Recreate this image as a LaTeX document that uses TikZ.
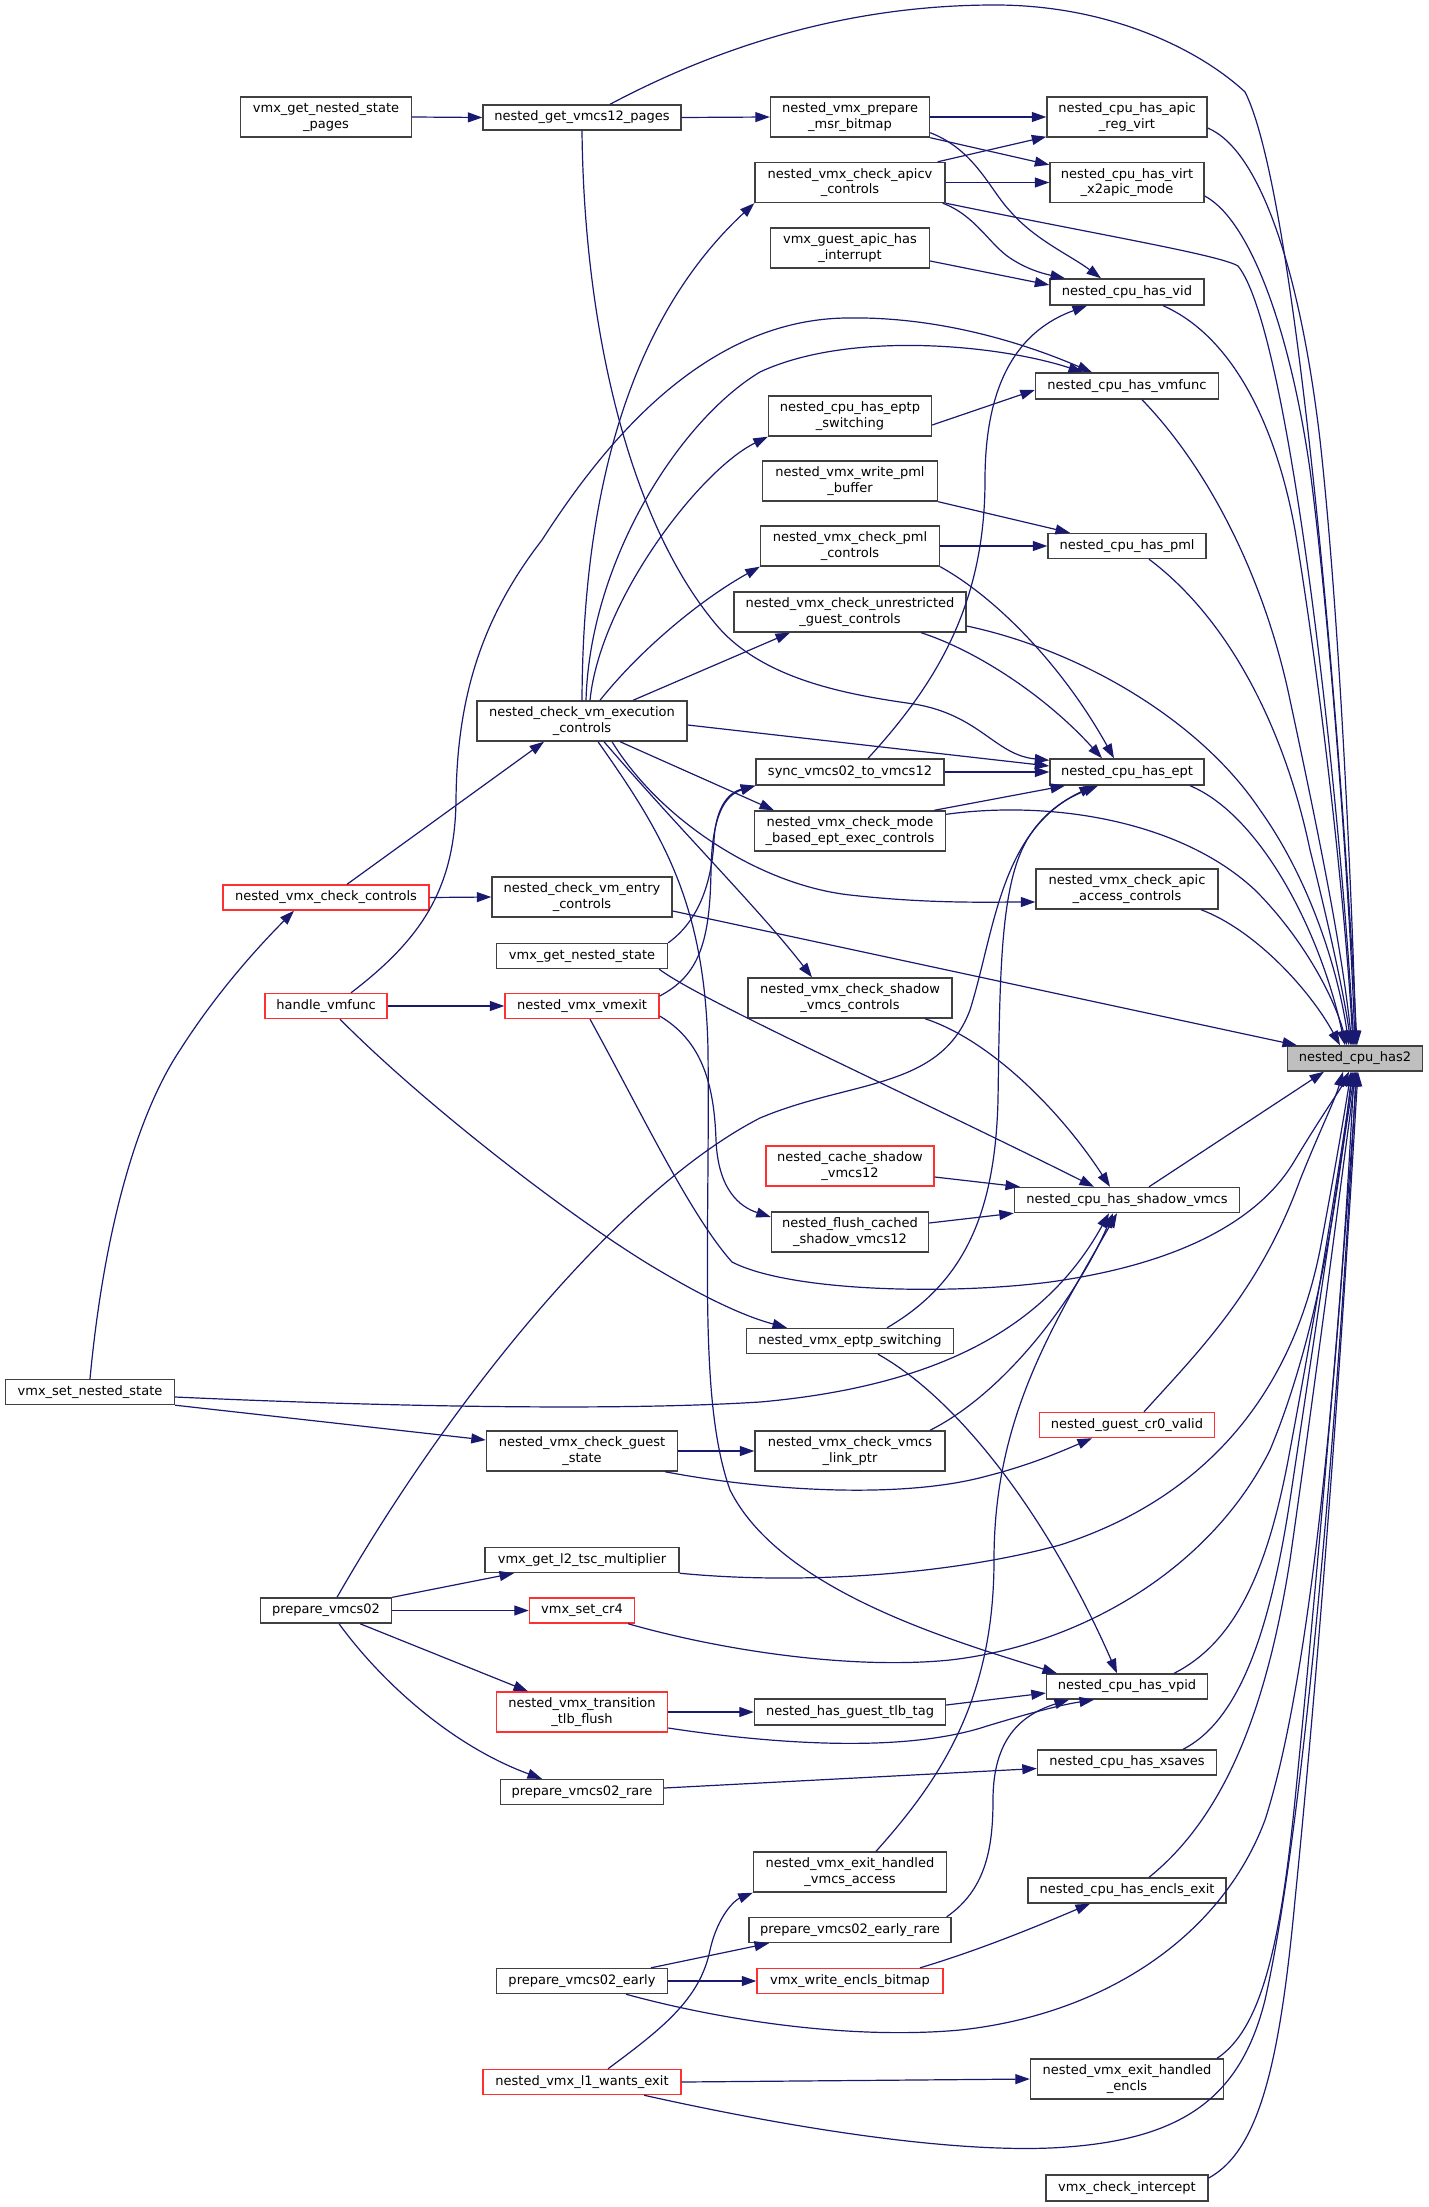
\documentclass[tikz,border=0pt]{standalone}
\usepackage{fontspec}
\setmainfont{DejaVu Sans}
\usetikzlibrary{arrows.meta}
\definecolor{edgec}{HTML}{191970}
\definecolor{boxc}{HTML}{404040}
\definecolor{redc}{HTML}{FF3030}
\definecolor{rootc}{HTML}{BFBFBF}
\tikzset{
 box/.style={draw=boxc,line width=1.4pt,fill=white,rectangle,inner sep=0pt,align=center,font=\fontsize{13pt}{15.4pt}\selectfont,minimum height=25pt},
 tall/.style={minimum height=40pt},
 trunc/.style={draw=redc},
 rootn/.style={fill=rootc},
 e/.style={draw=edgec,line width=1.2pt,-{Triangle[length=14.5pt,width=10pt]}},
}
\begin{document}
\begin{tikzpicture}[x=1pt,y=-1pt]
\useasboundingbox (0,0) rectangle (1428,2207);
\node[box,minimum width=171pt,tall] (gnsp) at (326,117) {vmx\_get\_nested\_state\\\_pages};
\node[box,minimum width=198pt] (gvp) at (582,117.5) {nested\_get\_vmcs12\_pages};
\node[box,minimum width=159pt,tall] (pmb) at (850,117) {nested\_vmx\_prepare\\\_msr\_bitmap};
\node[box,minimum width=160pt,tall] (arv) at (1127,117) {nested\_cpu\_has\_apic\\\_reg\_virt};
\node[box,minimum width=190pt,tall] (apicv) at (850,182.5) {nested\_vmx\_check\_apicv\\\_controls};
\node[box,minimum width=154pt,tall] (x2a) at (1127,182.5) {nested\_cpu\_has\_virt\\\_x2apic\_mode};
\node[box,minimum width=159pt,tall] (gai) at (850,248) {vmx\_guest\_apic\_has\\\_interrupt};
\node[box,minimum width=154pt,minimum height=26pt] (vid) at (1127,292) {nested\_cpu\_has\_vid};
\node[box,minimum width=183pt,minimum height=26pt] (vmf) at (1127,386) {nested\_cpu\_has\_vmfunc};
\node[box,minimum width=163pt,tall] (eps) at (850,416) {nested\_cpu\_has\_eptp\\\_switching};
\node[box,minimum width=175pt,tall] (wpb) at (850,481) {nested\_vmx\_write\_pml\\\_buffer};
\node[box,minimum width=179pt,tall] (cpc) at (850,546) {nested\_vmx\_check\_pml\\\_controls};
\node[box,minimum width=158pt] (pml) at (1127,546) {nested\_cpu\_has\_pml};
\node[box,minimum width=232pt,tall] (ugc) at (850,612) {nested\_vmx\_check\_unrestricted\\\_guest\_controls};
\node[box,minimum width=210pt,tall] (vec) at (582,721) {nested\_check\_vm\_execution\\\_controls};
\node[box,minimum width=188pt,minimum height=26pt] (sync) at (850,772) {sync\_vmcs02\_to\_vmcs12};
\node[box,minimum width=154pt,minimum height=26pt] (ept) at (1127,772) {nested\_cpu\_has\_ept};
\node[box,minimum width=191pt,tall] (mbe) at (850,831) {nested\_vmx\_check\_mode\\\_based\_ept\_exec\_controls};
\node[box,minimum width=182pt,tall] (aac) at (1127,889) {nested\_vmx\_check\_apic\\\_access\_controls};
\node[box,trunc,minimum width=206pt] (vcc) at (326,897.5) {nested\_vmx\_check\_controls};
\node[box,minimum width=180pt,tall] (vmentry) at (582,897) {nested\_check\_vm\_entry\\\_controls};
\node[box,minimum width=171pt] (gns) at (582,956) {vmx\_get\_nested\_state};
\node[box,minimum width=204pt,tall] (svc) at (850,998) {nested\_vmx\_check\_shadow\\\_vmcs\_controls};
\node[box,rootn,minimum width=135pt] (has2) at (1355,1058.5) {nested\_cpu\_has2};
\node[box,trunc,minimum width=122pt] (hvf) at (326,1006) {handle\_vmfunc};
\node[box,trunc,minimum width=154pt] (vmexit) at (582,1006) {nested\_vmx\_vmexit};
\node[box,trunc,minimum width=168pt,tall] (csv) at (850,1166) {nested\_cache\_shadow\\\_vmcs12};
\node[box,minimum width=225pt] (shv) at (1127,1200) {nested\_cpu\_has\_shadow\_vmcs};
\node[box,minimum width=157pt,tall] (fcs) at (850,1232) {nested\_flush\_cached\\\_shadow\_vmcs12};
\node[box,minimum width=207pt] (eptp) at (850,1341) {nested\_vmx\_eptp\_switching};
\node[box,minimum width=169pt] (sns) at (90,1392) {vmx\_set\_nested\_state};
\node[box,trunc,minimum width=175pt] (cr0) at (1127,1425) {nested\_guest\_cr0\_valid};
\node[box,minimum width=191pt,tall] (cgs) at (582,1451) {nested\_vmx\_check\_guest\\\_state};
\node[box,minimum width=190pt,tall] (vlp) at (850,1451) {nested\_vmx\_check\_vmcs\\\_link\_ptr};
\node[box,minimum width=194pt] (l2t) at (582,1560) {vmx\_get\_l2\_tsc\_multiplier};
\node[box,minimum width=131pt] (pv02) at (326,1610.5) {prepare\_vmcs02};
\node[box,trunc,minimum width=105pt] (cr4) at (582,1610.5) {vmx\_set\_cr4};
\node[box,minimum width=161pt] (vpid) at (1127,1686.5) {nested\_cpu\_has\_vpid};
\node[box,trunc,minimum width=171pt,tall] (ttf) at (582,1712) {nested\_vmx\_transition\\\_tlb\_flush};
\node[box,minimum width=191pt,minimum height=26pt] (tlb) at (850,1712) {nested\_has\_guest\_tlb\_tag};
\node[box,minimum width=179pt] (xsv) at (1127,1762.5) {nested\_cpu\_has\_xsaves};
\node[box,minimum width=163pt] (pvr) at (582,1792) {prepare\_vmcs02\_rare};
\node[box,minimum width=193pt,tall] (ehva) at (850,1872) {nested\_vmx\_exit\_handled\\\_vmcs\_access};
\node[box,minimum width=198pt] (encx) at (1127,1890.5) {nested\_cpu\_has\_encls\_exit};
\node[box,minimum width=202pt] (per) at (850,1930) {prepare\_vmcs02\_early\_rare};
\node[box,minimum width=171pt] (pe) at (582,1981) {prepare\_vmcs02\_early};
\node[box,trunc,minimum width=186pt] (web) at (850,1981) {vmx\_write\_encls\_bitmap};
\node[box,trunc,minimum width=198pt] (l1w) at (582,2082) {nested\_vmx\_l1\_wants\_exit};
\node[box,minimum width=193pt,tall] (ehe) at (1127,2079) {nested\_vmx\_exit\_handled\\\_encls};
\node[box,minimum width=162pt,minimum height=26pt] (vci) at (1127,2188) {vmx\_check\_intercept};
% edges
\draw[e] (gnsp.east) -- (gvp.west);
\draw[e] (gvp.east) -- (pmb.west);
\draw[e] ([xshift=28pt]gvp.north) .. controls (750,30) and (880,5) .. (995,5) .. controls (1110,5) and (1200,50) .. (1245,92) .. controls (1300,200) and (1345,800) .. ([xshift=2pt]has2.north);
\draw[e] (gvp.south) .. controls (584,330) and (630,520) .. (714,622) .. controls (760,680) and (850,695) .. (914,704) .. controls (980,715) and (995,755) .. ([yshift=-2pt]ept.north west);
\draw[e] (pmb.east) -- (arv.west);
\draw[e] (pmb.south east) -- ([yshift=-3pt]x2a.north west);
\draw[e] ([yshift=5pt]pmb.south east) .. controls (975,150) and (990,190) .. (1010,211) .. controls (1035,240) and (1070,255) .. ([xshift=-26pt]vid.north);
\draw[e] ([xshift=-8pt]apicv.north east) -- ([yshift=1pt]arv.south west);
\draw[e] (apicv.east) -- (x2a.west);
\draw[e] ([xshift=-3pt]apicv.south east) .. controls (975,215) and (990,245) .. (1010,258) .. controls (1025,268) and (1040,273) .. ([xshift=-62pt]vid.north);
\draw[e] (apicv.south east) .. controls (1100,235) and (1220,255) .. (1238,266) .. controls (1290,330) and (1340,800) .. ([xshift=-1pt]has2.north);
\draw[e] ([yshift=-13pt]gai.east) -- ([yshift=7pt]vid.west);
\draw[e] ([xshift=36pt]vid.south) .. controls (1230,335) and (1275,420) .. (1295,530) .. controls (1320,680) and (1345,900) .. ([xshift=-2pt]has2.north);
\draw[e] ([yshift=-11pt]arv.east) .. controls (1260,150) and (1300,270) .. (1320,440) .. controls (1340,620) and (1352,900) .. ([xshift=1pt]has2.north);
\draw[e] ([yshift=-13.5pt]x2a.east) .. controls (1250,220) and (1290,330) .. (1310,470) .. controls (1330,620) and (1350,900) .. (has2.north);
\draw[e] ([xshift=25pt]hvf.north) .. controls (420,940) and (455,890) .. (456,800) .. controls (457,700) and (480,620) .. (542,540) .. controls (600,450) and (700,320) .. (846,318) .. controls (950,316) and (1040,350) .. ([xshift=-35pt]vmf.north);
\draw[e] (vec.north) .. controls (583,450) and (650,300) .. (apicv.south west);
\draw[e] ([xshift=4pt]vec.north) .. controls (590,560) and (680,420) .. (760,372) .. controls (850,330) and (1000,345) .. ([xshift=-44pt]vmf.north);
\draw[e] ([xshift=8pt]vec.north) .. controls (600,600) and (700,470) .. (eps.south west);
\draw[e] ([xshift=18pt]vec.north) .. controls (640,650) and (700,600) .. (cpc.south west);
\draw[e] ([xshift=51pt]vec.north) -- ([xshift=-60pt]ugc.south);
\draw[e] ([yshift=-4pt]vec.east) -- ([yshift=6pt]ept.west);
\draw[e] ([xshift=38pt]vec.south) -- ([xshift=-76pt]mbe.north);
\draw[e] ([xshift=30pt]vec.south) .. controls (660,820) and (760,885) .. (850,895) .. controls (930,904) and (990,902) .. ([yshift=-13pt]aac.west);
\draw[e] ([xshift=22pt]vec.south) .. controls (680,830) and (760,910) .. ([xshift=-38pt]svc.north);
\draw[e] ([xshift=16pt]vec.south) .. controls (660,830) and (705,900) .. (708,1050) .. controls (710,1250) and (698,1400) .. (730,1490) .. controls (780,1590) and (950,1640) .. ([xshift=-70pt]vpid.north);
\draw[e] ([xshift=21pt]vcc.north) -- ([xshift=-38pt]vec.south);
\draw[e] (vcc.east) -- (vmentry.west);
\draw[e] (sns.north) .. controls (105,1220) and (140,1110) .. (180,1050) .. controls (215,995) and (255,950) .. ([xshift=-32pt]vcc.south);
\draw[e] ([yshift=-5pt]sns.east) .. controls (350,1405) and (600,1412) .. (760,1402) .. controls (950,1385) and (1050,1320) .. ([xshift=-18pt]shv.south);
\draw[e] (sns.south east) -- ([yshift=11pt]cgs.west);
\draw[e] (hvf.east) -- (vmexit.west);
\draw[e] ([xshift=14pt]hvf.south) .. controls (420,1100) and (560,1210) .. (650,1265) .. controls (700,1295) and (740,1315) .. ([xshift=-63pt]eptp.north);
\draw[e] (pv02.north east) -- ([xshift=-68pt]l2t.south);
\draw[e] (pv02.east) -- (cr4.west);
\draw[e] ([xshift=34pt]pv02.south) -- ([xshift=-54pt]ttf.north);
\draw[e] ([xshift=13pt]pv02.south) .. controls (380,1680) and (450,1745) .. ([xshift=-40pt]pvr.north);
\draw[e] ([xshift=11pt]pv02.north) .. controls (450,1400) and (620,1190) .. (760,1118) .. controls (850,1080) and (940,1090) .. (970,1010) .. controls (995,930) and (1000,830) .. ([xshift=-33pt]ept.south);
\draw[e] (gns.north east) .. controls (700,920) and (712,880) .. (714,840) .. controls (716,805) and (730,792) .. (sync.south west);
\draw[e] ([yshift=10pt]vmexit.east) .. controls (700,975) and (710,940) .. (711,870) .. controls (712,815) and (725,795) .. (sync.south west);
\draw[e] ([xshift=-9pt]gns.south east) .. controls (700,1000) and (900,1090) .. ([xshift=-33pt]shv.north);
\draw[e] ([yshift=-10pt]vmexit.east) .. controls (700,1040) and (714,1080) .. (716,1140) .. controls (718,1190) and (740,1207) .. ([yshift=15pt]fcs.west);
\draw[e] ([xshift=8pt]vmexit.south) .. controls (640,1110) and (690,1215) .. (732,1262) .. controls (790,1292) and (950,1295) .. (1050,1282) .. controls (1180,1264) and (1260,1220) .. (1295,1160) .. controls (1322,1115) and (1340,1090) .. ([xshift=-6pt]has2.south);
\draw[e] (cgs.east) -- (vlp.west);
\draw[e] ([xshift=83pt]cgs.south) .. controls (760,1490) and (900,1500) .. (987,1476) .. controls (1030,1465) and (1060,1452) .. ([xshift=-35pt]cr0.south);
\draw[e] (l2t.south east) .. controls (800,1585) and (950,1575) .. (1060,1545) .. controls (1200,1500) and (1290,1400) .. (1320,1250) .. controls (1335,1170) and (1345,1110) .. ([xshift=-4pt]has2.south);
\draw[e] ([xshift=46pt]cr4.south) .. controls (720,1650) and (850,1670) .. (950,1660) .. controls (1080,1645) and (1210,1570) .. (1270,1450) .. controls (1320,1330) and (1340,1180) .. ([xshift=-3pt]has2.south);
\draw[e] (ttf.east) -- (tlb.west);
\draw[e] ([yshift=-16pt]ttf.east) .. controls (760,1742) and (900,1755) .. (987,1726) .. controls (1030,1713) and (1060,1705) .. ([xshift=-33pt]vpid.south);
\draw[e] ([yshift=4pt]pvr.east) -- ([yshift=-6pt]xsv.west);
\draw[e] ([xshift=69pt]pe.north) -- ([xshift=-81pt]per.south);
\draw[e] (pe.east) -- (web.west);
\draw[e] ([xshift=44pt]pe.south) .. controls (720,2020) and (850,2040) .. (960,2030) .. controls (1100,2015) and (1220,1940) .. (1265,1820) .. controls (1320,1650) and (1345,1250) .. ([xshift=-1pt]has2.south);
\draw[e] ([xshift=26pt]l1w.north) .. controls (660,2030) and (700,2000) .. (710,1950) .. controls (718,1915) and (735,1900) .. (ehva.south west);
\draw[e] (l1w.east) -- (ehe.west);
\draw[e] ([xshift=62pt]l1w.south) .. controls (800,2130) and (950,2152) .. (1050,2148) .. controls (1180,2142) and (1240,2100) .. (1265,2000) .. controls (1310,1800) and (1345,1300) .. ([xshift=1pt]has2.south);
\draw[e] ([yshift=-9pt]eps.east) -- ([yshift=-4pt]vmf.west);
\draw[e] (wpb.south east) -- ([xshift=-57pt]pml.north);
\draw[e] (cpc.east) -- (pml.west);
\draw[e] (cpc.south east) .. controls (1000,600) and (1065,670) .. ([xshift=-13pt]ept.north);
\draw[e] ([xshift=71pt]ugc.south) .. controls (975,650) and (1045,695) .. ([xshift=-25pt]ept.north);
\draw[e] ([yshift=-14pt]ugc.east) .. controls (1080,650) and (1200,720) .. (1260,810) .. controls (1310,880) and (1338,970) .. ([xshift=-6pt]has2.north);
\draw[e] (sync.east) -- (ept.west);
\draw[e] ([xshift=18pt]sync.north) .. controls (940,680) and (985,600) .. (985,480) .. controls (985,380) and (1020,330) .. ([xshift=-40pt]vid.south);
\draw[e] ([xshift=-12pt]mbe.north east) -- ([xshift=-62pt]ept.south);
\draw[e] ([yshift=-4pt]mbe.north east) .. controls (1050,800) and (1180,820) .. (1255,890) .. controls (1305,940) and (1335,1000) .. ([xshift=-8pt]has2.north);
\draw[e] ([xshift=75pt]svc.south) .. controls (990,1040) and (1060,1110) .. ([xshift=-17pt]shv.north);
\draw[e] ([yshift=-11pt]csv.east) -- ([xshift=-107pt]shv.north);
\draw[e] ([yshift=9pt]fcs.east) -- (shv.south west);
\draw[e] ([xshift=37pt]eptp.north) .. controls (960,1285) and (995,1220) .. (998,1100) .. controls (1000,970) and (1000,880) .. (1030,835) .. controls (1050,805) and (1075,795) .. ([xshift=-29pt]ept.south);
\draw[e] ([xshift=28pt]eptp.south) .. controls (960,1400) and (1050,1520) .. ([xshift=-10pt]vpid.north);
\draw[e] ([xshift=80pt]vlp.north) .. controls (1010,1390) and (1080,1290) .. ([xshift=-14pt]shv.south);
\draw[e] ([yshift=7pt]tlb.east) -- ([yshift=-6.5pt]vpid.west);
\draw[e] ([xshift=26pt]ehva.north) .. controls (940,1780) and (994,1700) .. (994,1560) .. controls (994,1420) and (1050,1330) .. ([xshift=-10pt]shv.south);
\draw[e] ([xshift=-5pt]per.north east) .. controls (985,1890) and (993,1850) .. (993,1800) .. controls (993,1740) and (1020,1715) .. ([xshift=-58pt]vpid.south);
\draw[e] ([xshift=70pt]web.north) .. controls (980,1950) and (1040,1925) .. ([xshift=-37pt]encx.south);
\draw[e] ([xshift=15pt]vmf.south) .. controls (1210,470) and (1265,580) .. (1290,700) .. controls (1320,840) and (1342,950) .. ([xshift=-3pt]has2.north);
\draw[e] ([xshift=22pt]pml.south) .. controls (1230,620) and (1285,730) .. (1310,850) .. controls (1330,930) and (1345,1000) .. ([xshift=-4pt]has2.north);
\draw[e] ([xshift=63pt]ept.south) .. controls (1260,815) and (1320,930) .. ([xshift=-10pt]has2.north);
\draw[e] ([xshift=74pt]aac.south) .. controls (1255,930) and (1310,990) .. ([xshift=-15pt]has2.north);
\draw[e] ([yshift=-14pt]vmentry.east) -- ([xshift=-58pt]has2.north);
\draw[e] ([xshift=22pt]shv.north) -- ([xshift=-31pt]has2.south);
\draw[e] ([xshift=17pt]cr0.north) .. controls (1200,1350) and (1260,1290) .. (1300,1180) .. controls (1320,1130) and (1335,1100) .. ([xshift=-12pt]has2.south);
\draw[e] ([xshift=47pt]vpid.north) .. controls (1240,1640) and (1270,1560) .. (1290,1450) .. controls (1320,1290) and (1342,1150) .. ([xshift=-2pt]has2.south);
\draw[e] ([xshift=56pt]xsv.north) .. controls (1240,1720) and (1270,1630) .. (1290,1500) .. controls (1320,1300) and (1342,1150) .. (has2.south);
\draw[e] ([xshift=22pt]encx.north) .. controls (1220,1820) and (1265,1720) .. (1290,1560) .. controls (1320,1350) and (1345,1150) .. ([xshift=1pt]has2.south);
\draw[e] ([xshift=90pt]ehe.north) .. controls (1260,2030) and (1280,1950) .. (1295,1800) .. controls (1325,1500) and (1348,1200) .. ([xshift=2pt]has2.south);
\draw[e] ([yshift=10pt]vci.east) .. controls (1260,2150) and (1280,2060) .. (1295,1900) .. controls (1330,1550) and (1350,1200) .. ([xshift=3pt]has2.south);
\end{tikzpicture}
\end{document}
